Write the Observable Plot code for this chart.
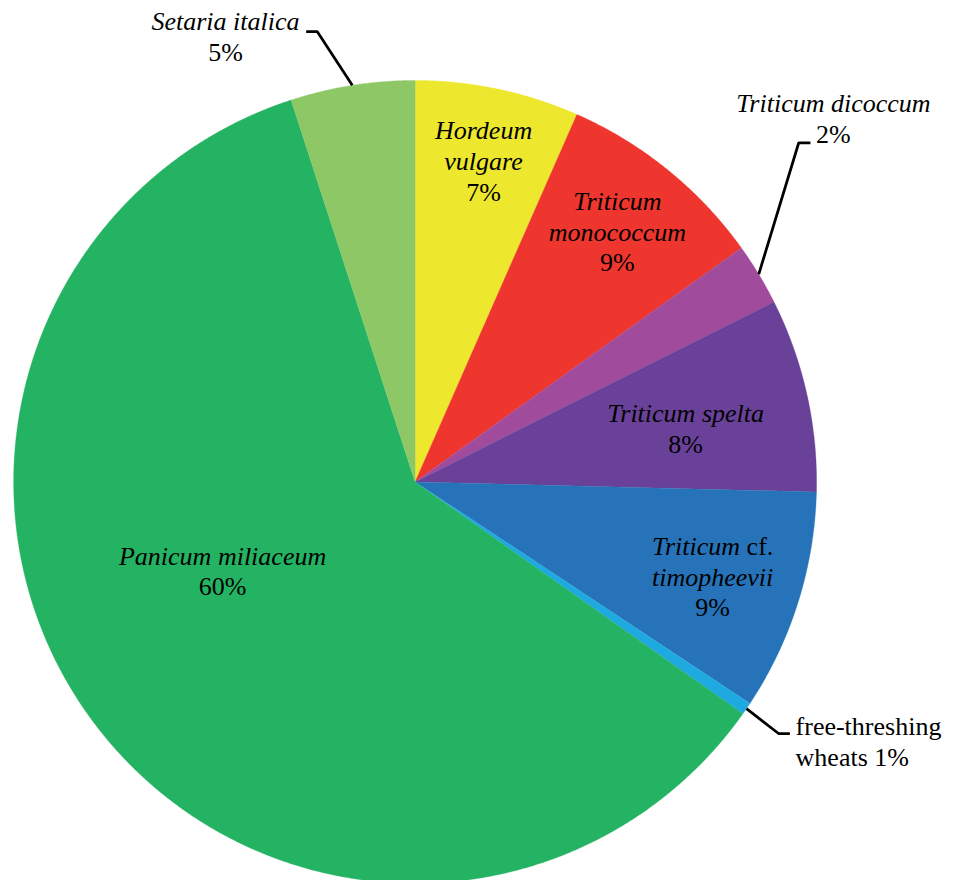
<!DOCTYPE html>
<html><head><meta charset="utf-8">
<script src="https://cdn.jsdelivr.net/npm/d3@7"></script>
<script src="https://cdn.jsdelivr.net/npm/@observablehq/plot@0.6"></script>
<style>html,body{margin:0;padding:0;background:#fff}</style>
</head><body><div id="chart"></div>
<script>
// ---- data (clockwise from 12 o'clock) ----
const taxa = ["Hordeum vulgare", "Triticum monococcum", "Triticum dicoccum", "Triticum spelta",
  "Triticum cf. timopheevii", "free-threshing wheats", "Panicum miliaceum", "Setaria italica"];
const shares = [6.6, 8.5, 2.5, 7.8, 8.9, 0.5, 60.2, 5.0];
const percentLabels = ["7%", "9%", "2%", "8%", "9%", "1%", "60%", "5%"];
const sliceColors = ["#ede82e", "#ee352e", "#a04b9b", "#6a4199", "#2773b9", "#1fa9e1", "#24b363", "#8dc766"];
// label text lines: [text, italic]
const labelLines = [
  [["Hordeum", true], ["vulgare", true], ["7%", false]],
  [["Triticum", true], ["monococcum", true], ["9%", false]],
  [["Triticum dicoccum", true], ["2%", false]],
  [["Triticum spelta", true], ["8%", false]],
  [["Triticum cf.", true], ["timopheevii", true], ["9%", false]],
  [["free-threshing", false], ["wheats 1%", false]],
  [["Panicum miliaceum", true], ["60%", false]],
  [["Setaria italica", true], ["5%", false]]
];

// ---- layout ----
const W = 958, H = 880, CX = 414.6, CY = 481.4, R = 401.5, LINE = 30.7, FS = 26;
// inside labels: [angle offset from slice middle (deg), radius fraction]
const insideLayout = {0: [-0.58, 0.870], 1: [-2.4, 0.844], 3: [0.15, 0.690], 4: [-3.69, 0.763], 6: [13.08, 0.522]};
// outside labels: kink offset, end offset, text offset (px), anchor
const outsideLayout = {
  7: {kink: [-35.1, -53.8], end: [-11, 0], text: [-80.7, -1.5], anchor: "middle"},
  2: {kink: [40, -131.5], end: [11.7, 0], text: [23, -30.8], anchor: "middle"},
  5: {kink: [32.4, 25.1], end: [11, 0], text: [5.7, 1.7], anchor: "start"}
};

const arcs = d3.pie().sort(null).value(d => d)(shares);
const polar = (t, r) => [CX + r * Math.sin(t), CY - r * Math.cos(t)];

const slicePts = [];
arcs.forEach((a, i) => {
  const n = Math.max(2, Math.ceil((a.endAngle - a.startAngle) / (Math.PI / 720)));
  slicePts.push({taxon: taxa[i], x: CX, y: CY});
  for (let k = 0; k <= n; k++) {
    const t = a.startAngle + (a.endAngle - a.startAngle) * k / n;
    const [x, y] = polar(t, R);
    slicePts.push({taxon: taxa[i], x, y});
  }
  slicePts.push({taxon: taxa[i], x: CX, y: CY});
});

const textRows = [];
const leaderPts = [];
arcs.forEach((a, i) => {
  const mid = (a.startAngle + a.endAngle) / 2;
  let x0, y0, anchor = "middle";
  if (insideLayout[i]) {
    const [dA, rf] = insideLayout[i];
    [x0, y0] = polar(mid + dA * Math.PI / 180, rf * R);
  } else {
    const L = outsideLayout[i];
    const [sx, sy] = polar(mid, R);
    const kx = sx + L.kink[0], ky = sy + L.kink[1];
    const ex = kx + L.end[0], ey = ky + L.end[1];
    leaderPts.push({taxon: taxa[i], x: sx, y: sy}, {taxon: taxa[i], x: kx, y: ky}, {taxon: taxa[i], x: ex, y: ey});
    x0 = ex + L.text[0]; y0 = ey + L.text[1]; anchor = L.anchor;
  }
  labelLines[i].forEach(([text, italic], j) => {
    textRows.push({x: x0, y: y0 + j * LINE, text, italic, anchor});
  });
});

const textMark = (italic, anchor) => Plot.text(textRows.filter(d => d.italic === italic && d.anchor === anchor), {
  x: "x", y: "y", text: "text", textAnchor: anchor, lineAnchor: "bottom",
  fontFamily: "Liberation Serif", fontSize: FS, fontStyle: italic ? "italic" : "normal", fill: "black"
});

const chart = Plot.plot({
  width: W, height: H, margin: 0,
  x: {domain: [0, W], range: [0, W], axis: null},
  y: {domain: [0, H], range: [0, H], axis: null},
  color: {domain: taxa, range: sliceColors},
  style: {background: "#fff", overflow: "visible"},
  marks: [
    Plot.line(slicePts, {x: "x", y: "y", z: "taxon", fill: "taxon", stroke: "taxon", strokeWidth: 0.3, curve: "linear"}),
    Plot.line(leaderPts, {x: "x", y: "y", z: "taxon", stroke: "black", strokeWidth: 2.75, strokeLinejoin: "miter", strokeLinecap: "butt"}),
    textMark(true, "middle"), textMark(false, "middle"), textMark(true, "start"), textMark(false, "start")
  ]
});
// mixed styling for "Triticum cf."
chart.querySelectorAll("text").forEach(t => {
  if (t.textContent === "Triticum cf.") {
    t.textContent = "";
    const ns = "http://www.w3.org/2000/svg";
    const a = document.createElementNS(ns, "tspan"); a.textContent = "Triticum"; a.setAttribute("font-style", "italic");
    const b = document.createElementNS(ns, "tspan"); b.textContent = " cf."; b.setAttribute("font-style", "normal");
    t.append(a, b);
  }
});
document.getElementById("chart").append(chart);
</script>
</body></html>
